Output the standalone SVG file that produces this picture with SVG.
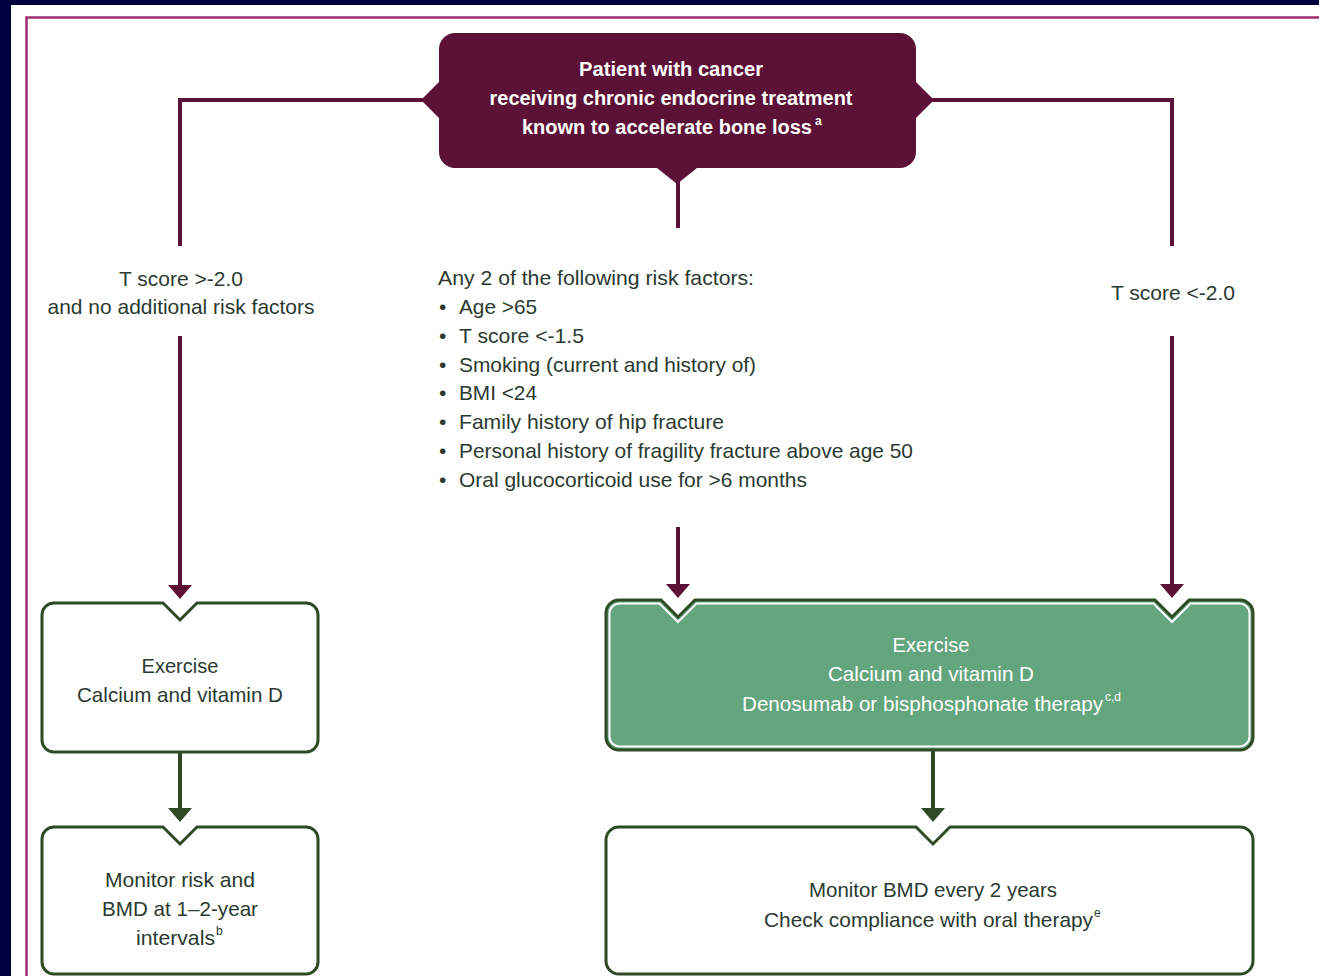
<svg xmlns="http://www.w3.org/2000/svg" width="1319" height="976" viewBox="0 0 1319 976">
<defs>
<style>
.t{font-family:"Liberation Sans Narrow","Liberation Sans",Arial,sans-serif;font-size:21px;fill:#2a3a30}
.sup{font-family:"Liberation Sans Narrow","Liberation Sans",Arial,sans-serif;font-size:12px;fill:#2a3a30}
.w{fill:#ffffff}
.b{font-weight:bold}
.c{text-anchor:middle}
.s20{font-size:20px}
.ml{stroke:#5c1236;stroke-width:4;fill:none}
.gl{stroke:#2f4a24;stroke-width:4;fill:none}
.box{fill:#ffffff;stroke:#2f4a24;stroke-width:3}
</style>
<marker id="am" viewBox="0 0 14 24" refX="0" refY="12" markerWidth="14" markerHeight="24" markerUnits="userSpaceOnUse" orient="auto"><path d="M0,0 L14,12 L0,24 Z" fill="#5c1236"/></marker>
<marker id="ag" viewBox="0 0 14 24" refX="0" refY="12" markerWidth="14" markerHeight="24" markerUnits="userSpaceOnUse" orient="auto"><path d="M0,0 L14,12 L0,24 Z" fill="#2f4a24"/></marker>
</defs>
<rect x="0" y="0" width="1319" height="976" fill="#000040"/>
<rect x="11" y="5" width="1308" height="971" fill="#ffffff"/>
<path d="M26.5,976 V17.5 H1319" fill="none" stroke="#9e2f6c" stroke-width="2.5"/>

<g id="connectors">
<path class="ml" d="M425,100 H180 V246"/>
<path class="ml" d="M930,100 H1172 V246"/>
<path class="ml" d="M678,180 V228"/>
<path class="ml" d="M180,336 V585" marker-end="url(#am)"/>
<path class="ml" d="M678,527 V584" marker-end="url(#am)"/>
<path class="ml" d="M1172,336 V584" marker-end="url(#am)"/>
<path class="gl" d="M180,753 V808" marker-end="url(#ag)"/>
<path class="gl" d="M933,750 V808" marker-end="url(#ag)"/>
</g>

<g id="start">
<path d="M455,33 H900 A16,16 0 0 1 916,49 V82 L934,100 L916,118 V152 A16,16 0 0 1 900,168 H697 L677,184 L657,168 H455 A16,16 0 0 1 439,152 V118 L421,100 L439,82 V49 A16,16 0 0 1 455,33 Z" fill="#5c1236"/>
<text class="t w b c" x="671" y="76" textLength="184" lengthAdjust="spacingAndGlyphs">Patient with cancer</text>
<text class="t w b c" x="671" y="105" textLength="363" lengthAdjust="spacingAndGlyphs">receiving chronic endocrine treatment</text>
<text class="t w b s20" x="522" y="134" textLength="290" lengthAdjust="spacingAndGlyphs">known to accelerate bone loss</text>
<text class="sup w b" x="815" y="125">a</text>
</g>

<g id="label-left">
<text class="t c" x="181" y="286" textLength="124" lengthAdjust="spacingAndGlyphs">T score &gt;-2.0</text>
<text class="t c" x="181" y="314" textLength="267" lengthAdjust="spacingAndGlyphs">and no additional risk factors</text>
</g>

<g id="label-center">
<text class="t" x="438" y="285" textLength="316" lengthAdjust="spacingAndGlyphs">Any 2 of the following risk factors:</text>
<text class="t" x="439" y="314">•</text>
<text class="t" x="459" y="314" textLength="78" lengthAdjust="spacingAndGlyphs">Age &gt;65</text>
<text class="t" x="439" y="343">•</text>
<text class="t" x="459" y="343" textLength="125" lengthAdjust="spacingAndGlyphs">T score &lt;-1.5</text>
<text class="t" x="439" y="372">•</text>
<text class="t" x="459" y="372" textLength="297" lengthAdjust="spacingAndGlyphs">Smoking (current and history of)</text>
<text class="t" x="439" y="400">•</text>
<text class="t" x="459" y="400" textLength="78" lengthAdjust="spacingAndGlyphs">BMI &lt;24</text>
<text class="t" x="439" y="429">•</text>
<text class="t" x="459" y="429" textLength="265" lengthAdjust="spacingAndGlyphs">Family history of hip fracture</text>
<text class="t" x="439" y="458">•</text>
<text class="t" x="459" y="458" textLength="454" lengthAdjust="spacingAndGlyphs">Personal history of fragility fracture above age 50</text>
<text class="t" x="439" y="487">•</text>
<text class="t" x="459" y="487" textLength="348" lengthAdjust="spacingAndGlyphs">Oral glucocorticoid use for &gt;6 months</text>
</g>

<g id="label-right">
<text class="t c" x="1173" y="300" textLength="124" lengthAdjust="spacingAndGlyphs">T score &lt;-2.0</text>
</g>

<g id="box-left">
<path class="box" d="M54,603 H163 L180,620 L197,603 H306 A12,12 0 0 1 318,615 V740 A12,12 0 0 1 306,752 H54 A12,12 0 0 1 42,740 V615 A12,12 0 0 1 54,603 Z"/>
<text class="t c" x="180" y="673" textLength="77" lengthAdjust="spacingAndGlyphs">Exercise</text>
<text class="t c" x="180" y="702" textLength="206" lengthAdjust="spacingAndGlyphs">Calcium and vitamin D</text>
</g>

<g id="box-green">
<path d="M619,600 H661 L678,617 L695,600 H1155 L1172,617 L1189,600 H1240 A13,13 0 0 1 1253,613 V737 A13,13 0 0 1 1240,750 H619 A13,13 0 0 1 606,737 V613 A13,13 0 0 1 619,600 Z" fill="#63a57d" stroke="#2f4a24" stroke-width="3"/>
<path d="M620,603.5 H659.5 L678,622 L696.5,603.5 H1153.5 L1172,622 L1190.5,603.5 H1239 A10,10 0 0 1 1249.5,613.5 V736.5 A10,10 0 0 1 1239,746.5 H620 A10,10 0 0 1 609.5,736.5 V613.5 A10,10 0 0 1 620,603.5 Z" fill="none" stroke="#ffffff" stroke-width="2"/>
<text class="t w c" x="931" y="652" textLength="77" lengthAdjust="spacingAndGlyphs">Exercise</text>
<text class="t w c" x="931" y="681" textLength="206" lengthAdjust="spacingAndGlyphs">Calcium and vitamin D</text>
<text class="t w s20" x="742" y="711" textLength="361" lengthAdjust="spacingAndGlyphs">Denosumab or bisphosphonate therapy</text>
<text class="sup w" x="1105" y="701">c,d</text>
</g>

<g id="box-bottom-left">
<path class="box" d="M54,827 H163 L180,844 L197,827 H306 A12,12 0 0 1 318,839 V962 A12,12 0 0 1 306,974 H54 A12,12 0 0 1 42,962 V839 A12,12 0 0 1 54,827 Z"/>
<text class="t c" x="180" y="887" textLength="150" lengthAdjust="spacingAndGlyphs">Monitor risk and</text>
<text class="t c" x="180" y="916" textLength="156" lengthAdjust="spacingAndGlyphs">BMD at 1–2-year</text>
<text class="t" x="136" y="945" textLength="79" lengthAdjust="spacingAndGlyphs">intervals</text>
<text class="sup" x="216" y="935">b</text>
</g>

<g id="box-bottom-right">
<path class="box" d="M619,827 H916 L933,844 L950,827 H1240 A13,13 0 0 1 1253,840 V961 A13,13 0 0 1 1240,974 H619 A13,13 0 0 1 606,961 V840 A13,13 0 0 1 619,827 Z"/>
<text class="t c" x="933" y="897" textLength="248" lengthAdjust="spacingAndGlyphs">Monitor BMD every 2 years</text>
<text class="t" x="764" y="927" textLength="329" lengthAdjust="spacingAndGlyphs">Check compliance with oral therapy</text>
<text class="sup" x="1094" y="917">e</text>
</g>
</svg>
